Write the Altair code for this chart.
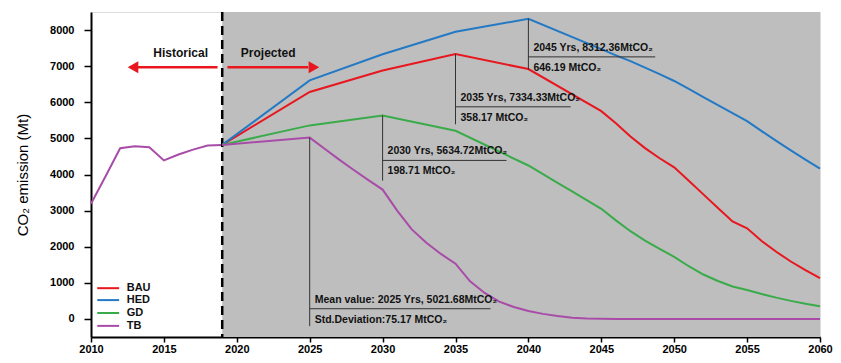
import altair as alt
import pandas as pd

FONT = "Liberation Sans"

# ---------------- data ----------------
hist_years = list(range(2010, 2020))
hist_values = [3190, 3950, 4728, 4783, 4755, 4390, 4555, 4690, 4800, 4820]

bau_years = [2019, 2025, 2030, 2035, 2040, 2045] + list(range(2046, 2061))
bau_values = [4820, 6286, 6880, 7334.33, 6920, 5753,
              5420, 5050, 4730, 4450, 4200, 3830, 3450, 3070, 2700, 2510,
              2160, 1860, 1590, 1350, 1127]

hed_years = [2019, 2025, 2030, 2035, 2040, 2045] + list(range(2046, 2061))
hed_values = [4820, 6605, 7331, 7952, 8312.36, 7470,
              7300, 7140, 6960, 6780, 6590, 6370, 6140, 5920, 5700, 5480,
              5200, 4930, 4670, 4410, 4160]

gd_years = [2019, 2025, 2030, 2035] + list(range(2040, 2061))
gd_values = [4820, 5360, 5634.72, 5210,
             4250, 4010, 3770, 3530, 3290, 3050, 2730, 2430, 2170, 1940, 1720,
             1460, 1230, 1050, 900, 800, 690, 590, 500, 420, 350]

tb_years = [2019] + list(range(2025, 2061))
tb_values = [4820, 5021.68, 4720, 4420, 4130, 3850, 3582, 3000, 2480, 2110, 1800,
             1530, 1040, 720, 480, 330, 220, 140, 80, 35, 15, 5,
             0, 0, 0, 0, 0, 0, 0, 0, 0, 0, 0, 0, 0, 0, 0]

series_names = ["BAU", "HED", "GD", "TB"]
series_colors = ["#e8161e", "#2479c4", "#3aab4a", "#a84ca8"]

# legend rows (drawn inside the plot, bottom-left)
legend_y = [852, 522, 165, -192]

# annotation (peak markers)
ann_x = [2040, 2035, 2030, 2025]
ann_peak = [8312.36, 7334.33, 5634.72, 5021.68]
ann_vbottom = [6900, 5390, 3830, -200]
ann_hline = [7257, 5874, 4390, 283]
ann_xend = [2048.7, 2042.9, 2038.5, 2037.4]
ann_text1 = ["2045 Yrs, 8312.36MtCO\u2082", "2035 Yrs, 7334.33MtCO\u2082",
             "2030 Yrs, 5634.72MtCO\u2082", "Mean value: 2025 Yrs, 5021.68MtCO\u2082"]
ann_text2 = ["646.19 MtCO\u2082", "358.17 MtCO\u2082", "198.71 MtCO\u2082",
             "Std.Deviation:75.17 MtCO\u2082"]

x_ticks = list(range(2010, 2061, 5))
y_ticks = list(range(0, 8001, 1000))

# ---------------- frames ----------------
rows = []
for name, yrs, vals in [("BAU", bau_years, bau_values), ("HED", hed_years, hed_values),
                        ("GD", gd_years, gd_values), ("TB", tb_years, tb_values)]:
    for y, v in zip(yrs, vals):
        rows.append({"year": y, "value": v, "series": name})
proj = pd.DataFrame(rows)
hist = pd.DataFrame({"year": hist_years, "value": hist_values})
ann = pd.DataFrame({"x": ann_x, "peak": ann_peak, "vb": ann_vbottom, "h": ann_hline,
                    "xe": ann_xend, "t1": ann_text1, "t2": ann_text2})
leg = pd.DataFrame({"series": series_names, "y": legend_y,
                    "x1": [2010.43] * 4, "x2": [2011.93] * 4, "xt": [2012.45] * 4})

xs = alt.Scale(domain=[2010, 2060], nice=False, zero=False)
ys = alt.Scale(domain=[-500, 8500], nice=False, zero=False)
cs = alt.Scale(domain=series_names, range=series_colors)

X = alt.X("year:Q", scale=xs, title=None,
          axis=alt.Axis(values=x_ticks, format="d", grid=False, tickSize=5,
                        labelPadding=1, labelFontSize=11, labelFontWeight="bold",
                        labelFont=FONT, labelColor="black", tickColor="black",
                        tickWidth=1.5, domainColor="black", domainWidth=2,
                        labelFlush=False))
Y = alt.Y("value:Q", scale=ys, title="CO\u2082 emission (Mt)",
          axis=alt.Axis(values=y_ticks, format="d", grid=False, tickSize=7,
                        labelPadding=10, labelFontSize=11, labelFontWeight="bold",
                        labelFont=FONT, labelColor="black", tickColor="black",
                        tickWidth=1.5, domainColor="black", domainWidth=2,
                        titleFont=FONT, titleFontSize=15, titleFontWeight="normal",
                        titleColor="black", titlePadding=19))

bg = alt.Chart(pd.DataFrame({"x": [2019], "x2": [2060], "y": [-500], "y2": [8500]})).mark_rect(
    color="#bebebe").encode(
    x=alt.X("x:Q", scale=xs), x2="x2:Q", y=alt.Y("y:Q", scale=ys), y2="y2:Q")

base_axes = alt.Chart(hist).mark_line(color="#a84ca8", strokeWidth=2).encode(x=X, y=Y)

dash = alt.Chart(pd.DataFrame({"x": [2019]})).mark_rule(
    color="black", strokeWidth=2.5, strokeDash=[9, 5]).encode(
    x=alt.X("x:Q", scale=xs))

lines = alt.Chart(proj).mark_line(strokeWidth=2).encode(
    x=alt.X("year:Q", scale=xs),
    y=alt.Y("value:Q", scale=ys),
    color=alt.Color("series:N", scale=cs, legend=None),
    order=alt.Order("year:Q"))

leg_lines = alt.Chart(leg).mark_rule(strokeWidth=2).encode(
    x=alt.X("x1:Q", scale=xs), x2="x2:Q", y=alt.Y("y:Q", scale=ys),
    color=alt.Color("series:N", scale=cs, legend=None))
leg_text = alt.Chart(leg).mark_text(align="left", baseline="middle", font=FONT,
                                    fontSize=11, fontWeight="bold", color="#111111").encode(
    x=alt.X("xt:Q", scale=xs), y=alt.Y("y:Q", scale=ys), text="series:N")

ann_base = alt.Chart(ann)
vrule = ann_base.mark_rule(color="#333333", strokeWidth=1).encode(
    x=alt.X("x:Q", scale=xs), y=alt.Y("peak:Q", scale=ys), y2="vb:Q")
hrule = ann_base.mark_rule(color="#333333", strokeWidth=1).encode(
    x=alt.X("x:Q", scale=xs), x2="xe:Q", y=alt.Y("h:Q", scale=ys))
t1 = ann_base.mark_text(align="left", baseline="middle", dx=5, dy=-9,
                        font=FONT, fontSize=10.5, fontWeight="bold", color="#111111").encode(
    x=alt.X("x:Q", scale=xs), y=alt.Y("h:Q", scale=ys), text="t1:N")
t2 = ann_base.mark_text(align="left", baseline="middle", dx=5, dy=11,
                        font=FONT, fontSize=10.5, fontWeight="bold", color="#111111").encode(
    x=alt.X("x:Q", scale=xs), y=alt.Y("h:Q", scale=ys), text="t2:N")

# Historical / Projected arrows
arrow_df = pd.DataFrame({"x": [2018.68, 2019.36], "x2": [2013.2, 2024.9],
                         "y": [6970, 6970]})
shafts = alt.Chart(arrow_df).mark_rule(color="#e8161e", strokeWidth=2.5).encode(
    x=alt.X("x:Q", scale=xs), x2="x2:Q", y=alt.Y("y:Q", scale=ys))
head_df = pd.DataFrame({"x": [2012.88, 2025.29], "y": [6970, 6970],
                        "shape": ["triangle-left", "triangle-right"]})
heads = alt.Chart(head_df).mark_point(filled=True, color="#e8161e", opacity=1,
                                      size=150).encode(
    x=alt.X("x:Q", scale=xs), y=alt.Y("y:Q", scale=ys),
    shape=alt.Shape("shape:N", scale=None, legend=None))
lab_df = pd.DataFrame({"x": [2016.15, 2022.15], "y": [7370, 7370],
                       "t": ["Historical", "Projected"]})
labs = alt.Chart(lab_df).mark_text(font=FONT, fontSize=12, fontWeight="bold",
                                   color="#111111", baseline="middle").encode(
    x=alt.X("x:Q", scale=xs), y=alt.Y("y:Q", scale=ys), text="t:N")

chart = alt.layer(bg, base_axes, dash, lines, leg_lines, leg_text, vrule, hrule,
                  t1, t2, shafts, heads, labs).properties(
    width=729, height=325,
    autosize=alt.AutoSizeParams(type="none"),
    padding={"left": 83, "top": 4, "right": 13, "bottom": 18},
).configure_view(stroke="black", strokeWidth=2).configure(background="white")

chart.save("out.html", embed_options={"renderer": "svg", "actions": False})
